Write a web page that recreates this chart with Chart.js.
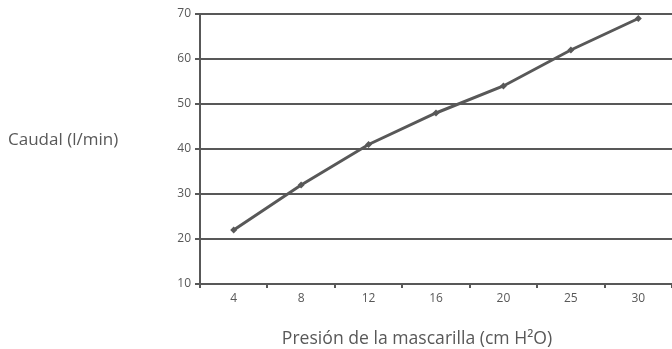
<!DOCTYPE html>
<html>
<head>
<meta charset="utf-8">
<script src="https://cdn.jsdelivr.net/npm/chart.js@4/dist/chart.umd.min.js"></script>
<style>
html,body{margin:0;padding:0;background:#fff;}
#wrap{position:relative;width:672px;height:349px;}
</style>
</head>
<body>
<div id="wrap"><canvas id="c" width="672" height="349"></canvas></div>
<script>
const categories = ["4", "8", "12", "16", "20", "25", "30"];
const caudal = [22, 32, 41, 48, 54, 62, 69];
const yTicks = [10, 20, 30, 40, 50, 60, 70];
const yTitle = "Caudal (l/min)";
const xTitle = "Presión de la mascarilla (cm H²O)";

const INK = "#585858";
const FONT = "'Open Sans', sans-serif";

const titlesPlugin = {
  id: 'titles',
  afterDraw(chart) {
    const ctx = chart.ctx;
    ctx.save();
    ctx.fillStyle = INK;
    ctx.font = "17px " + FONT;
    ctx.textBaseline = "middle";
    ctx.textAlign = "left";
    ctx.fillText(yTitle, 8, 140);
    ctx.font = "17.6px " + FONT;
    ctx.textAlign = "center";
    ctx.fillText(xTitle, 417, 339);
    ctx.restore();
  }
};

new Chart(document.getElementById('c'), {
  type: 'line',
  data: {
    labels: categories,
    datasets: [{
      data: caudal,
      borderColor: INK,
      backgroundColor: INK,
      borderWidth: 3,
      pointStyle: 'rectRot',
      pointRadius: 3.5,
      pointBorderWidth: 0,
      pointBackgroundColor: INK,
      tension: 0,
      fill: false,
      clip: false
    }]
  },
  options: {
    responsive: false,
    animation: false,
    layout: { autoPadding: false, padding: { top: 14, right: 0, left: 0, bottom: 0 } },
    plugins: { legend: { display: false }, tooltip: { enabled: false } },
    scales: {
      x: {
        type: 'category',
        offset: true,
        afterFit(s) { s.height = 65; s.paddingLeft = 0; s.paddingRight = 0; },
        grid: { display: true, offset: true, drawOnChartArea: false, drawTicks: true, tickLength: 4, color: INK, lineWidth: 2 },
        border: { display: true, color: INK, width: 2 },
        ticks: { color: INK, font: { family: FONT, size: 12 }, padding: 3, maxRotation: 0 }
      },
      y: {
        min: 10,
        max: 70,
        afterFit(s) { s.width = 200; },
        afterBuildTicks(s) { s.ticks = yTicks.map(v => ({ value: v })); },
        grid: { display: true, drawOnChartArea: true, drawTicks: true, tickLength: 5, color: INK, lineWidth: 2 },
        border: { display: true, color: INK, width: 2 },
        ticks: { color: INK, font: { family: FONT, size: 12 }, padding: 4 }
      }
    }
  },
  plugins: [titlesPlugin]
});
</script>
</body>
</html>
